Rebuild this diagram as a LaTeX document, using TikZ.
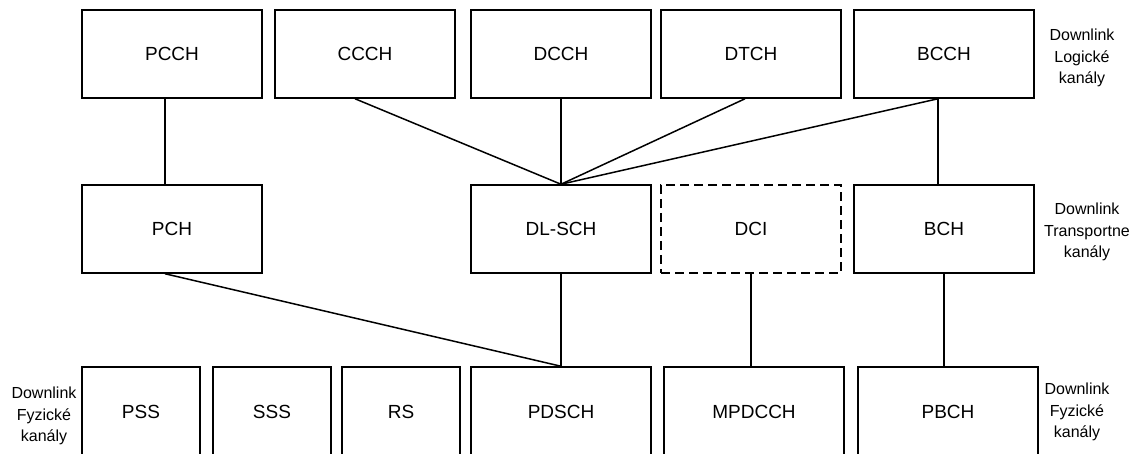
\documentclass[tikz,border=0pt]{standalone}
\usepackage{fontspec}
\setmainfont{Liberation Sans}

\begin{document}
\begin{tikzpicture}[x=1pt, y=-1pt,
    chbox/.style={draw, line width=1.5pt, minimum width=180pt, minimum height=88pt,
                  inner sep=0pt, font=\fontsize{19}{22}\selectfont},
    sigbox/.style={chbox, minimum width=118pt},
    lbl/.style={align=center, font=\fontsize{16}{21.5}\selectfont},
    link/.style={line width=1.5pt}]
        \useasboundingbox (0,0) rectangle (1138,454);                  %
        % logicke kanaly
        \node [chbox] (pcch) at (172,54)     {PCCH};                   %
        \node [chbox] (ccch) at (365,54)     {CCCH};                   %
        \node [chbox] (dcch) at (561,54)     {DCCH};                   %
        \node [chbox] (dtch) at (751,54)     {DTCH};                   %
        \node [chbox] (bcch) at (944,54)     {BCCH};                   %
        \node [lbl]   (loglbl) at (1082,58)  {Downlink\\Logické\\kanály};
        % transportne kanaly
        \node [chbox] (pch)   at (172,229)   {PCH};                    %
        \node [chbox] (dlsch) at (561,229)   {DL-SCH};                 %
        \node [chbox, dash pattern=on 9pt off 5pt] (dci) at (751,229) {DCI};
        \node [chbox] (bch)   at (944,229)   {BCH};                    %
        \node [lbl]   (trlbl) at (1087,232)  {Downlink\\Transportne\\kanály};
        % fyzicke kanaly
        \node [sigbox, minimum height=90pt] (pss) at (141,412) {PSS};  %
        \node [sigbox, minimum height=90pt] (sss) at (272,412) {SSS};  %
        \node [sigbox, minimum height=90pt] (rs)  at (401,412) {RS};   %
        \node [chbox, minimum height=90pt] (pdsch)  at (561,412) {PDSCH};
        \node [chbox, minimum height=90pt] (mpdcch) at (754,412) {MPDCCH};
        \node [chbox, minimum height=90pt] (pbch)   at (948,412) {PBCH};
        \node [lbl]   (fyzlbl) at (44,416)   {Downlink\\Fyzické\\kanály};
        \node [lbl]   (fyzlblr) at (1077,412) {Downlink\\Fyzické\\kanály};
        % spojenia
        \draw [link] ([xshift=-7pt]pcch.south) -- ([xshift=-7pt]pch.north);
        \draw [link] ([xshift=-10pt]ccch.south) -- (dlsch.north);     %
        \draw [link] (dcch.south)  -- (dlsch.north);                   %
        \draw [link] ([xshift=-6pt]dtch.south) -- (dlsch.north);      %
        \draw [link] ([xshift=-6pt]bcch.south) -- (dlsch.north);      %
        \draw [link] ([xshift=-6pt]bcch.south) -- ([xshift=-6pt]bch.north);
        \draw [link] ([xshift=-7pt]pch.south)  -- (pdsch.north);      %
        \draw [link] (dlsch.south) -- (pdsch.north);                   %
        \draw [link] (dci.south)   -- (dci.south |- mpdcch.north);     %
        \draw [link] (bch.south)   -- (bch.south |- pbch.north);       %
\end{tikzpicture}
\end{document}
